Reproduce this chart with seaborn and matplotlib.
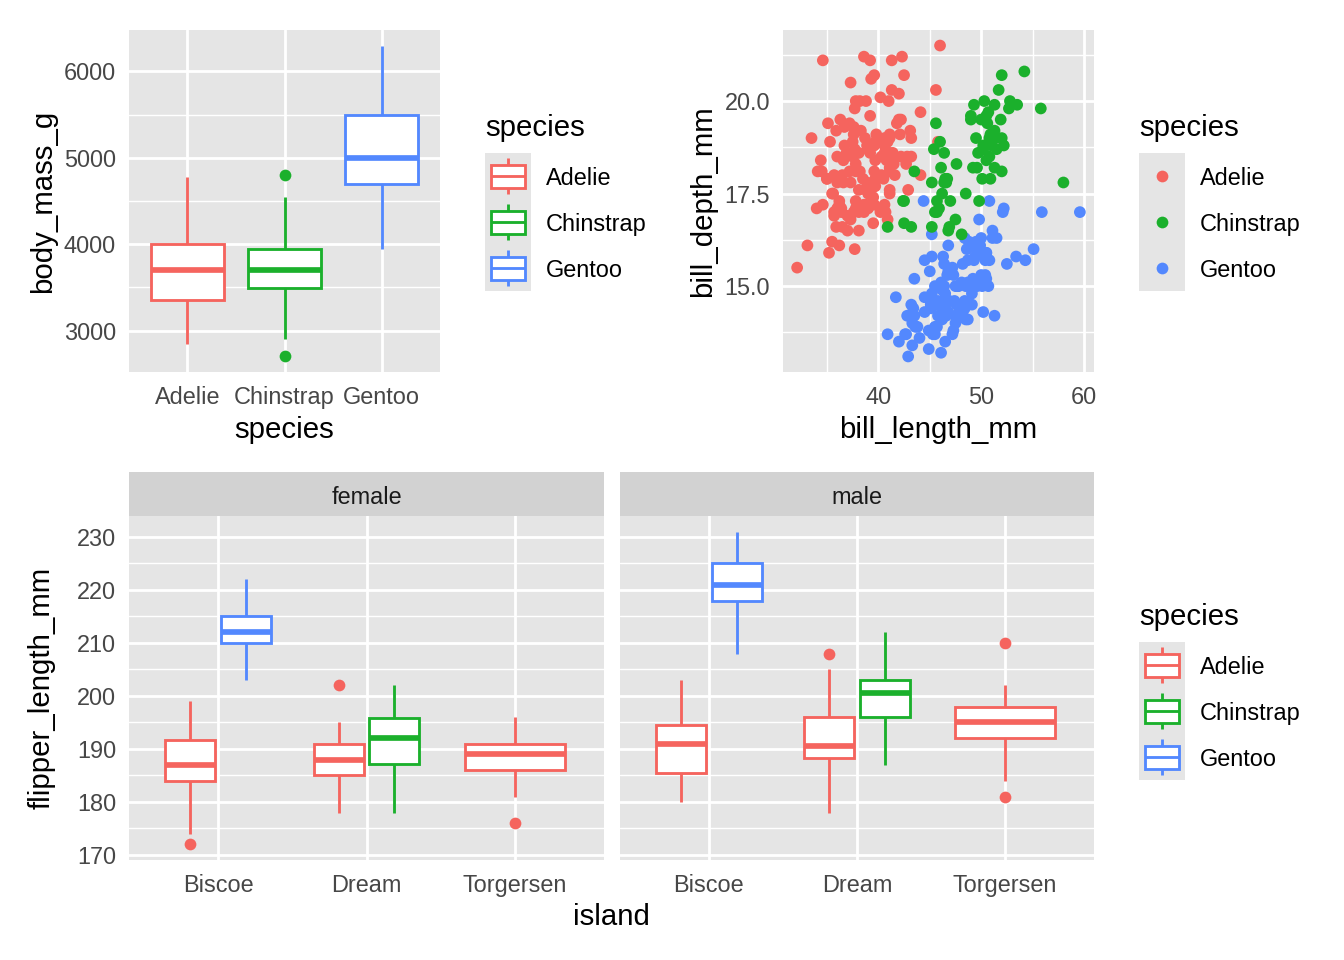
import numpy as np
import pandas as pd
import matplotlib
matplotlib.use('Agg')
import matplotlib.pyplot as plt
from matplotlib.patches import Rectangle
from matplotlib.ticker import FixedLocator
import seaborn as sns

# ---- data ----
species_order = ['Adelie', 'Chinstrap', 'Gentoo']
island_order = ['Biscoe', 'Dream', 'Torgersen']
sex_order = ['female', 'male']
colors = {'Adelie': '#F5645E', 'Chinstrap': '#1BB02C', 'Gentoo': '#5388FE'}

# body mass boxplot (per species): whisker ends, quartiles, outliers
mass_lo = [2850, 2900, 3950]
mass_q1 = [3350, 3487.5, 4700]
mass_med = [3700, 3700, 5000]
mass_q3 = [4000, 3950, 5500]
mass_hi = [4775, 4550, 6300]
mass_out = [[], [2700, 4800], []]

# bill length / depth scatter
adelie_len = [39.1, 39.5, 40.3, 36.7, 39.3, 38.9, 39.2, 34.1, 42.0, 37.8, 37.8, 41.1, 38.6, 34.6, 36.6,
              38.7, 42.5, 34.4, 46.0, 37.8, 37.7, 35.9, 38.2, 38.8, 35.3, 40.6, 40.5, 37.9, 40.5, 39.5,
              37.2, 39.5, 40.9, 36.4, 39.2, 38.8, 42.2, 37.6, 39.8, 36.5, 40.8, 36.0, 44.1, 37.0, 39.6,
              41.1, 37.5, 36.0, 42.3, 39.6, 40.1, 35.0, 42.0, 34.5, 41.4, 39.0, 40.6, 36.5, 37.6, 35.7,
              41.3, 37.6, 41.1, 36.4, 41.6, 35.5, 41.1, 35.9, 41.8, 33.5, 39.7, 39.6, 45.8, 35.5, 42.8,
              40.9, 37.2, 36.2, 42.1, 34.6, 42.9, 36.7, 35.1, 37.3, 41.3, 36.3, 36.9, 38.3, 38.9, 35.7,
              41.1, 34.0, 39.6, 36.2, 40.8, 38.1, 40.3, 33.1, 43.2, 35.0, 41.0, 37.7, 37.8, 37.9, 39.7,
              38.6, 38.2, 38.1, 43.2, 38.1, 45.6, 39.7, 42.2, 39.6, 42.7, 38.6, 37.3, 35.7, 41.1, 36.2,
              37.7, 40.2, 41.4, 35.2, 40.6, 38.8, 41.5, 39.0, 44.1, 38.5, 43.1, 36.8, 37.5, 38.1, 41.1,
              35.6, 40.2, 37.0, 39.7, 40.2, 40.6, 32.1, 40.7, 37.3, 39.0, 39.2, 36.6, 36.0, 37.8, 36.0,
              41.5]
adelie_dep = [18.7, 17.4, 18.0, 19.3, 20.6, 17.8, 19.6, 18.1, 20.2, 17.1, 17.3, 17.6, 21.2, 21.1, 17.8,
              19.0, 20.7, 18.4, 21.5, 18.3, 18.7, 19.2, 18.1, 17.2, 18.9, 18.6, 17.9, 18.6, 18.9, 16.7,
              18.1, 17.8, 18.9, 17.0, 21.1, 20.0, 18.5, 19.3, 19.1, 18.0, 18.4, 18.5, 19.7, 16.9, 18.8,
              19.0, 18.9, 17.9, 21.2, 17.7, 18.9, 17.9, 19.5, 18.1, 18.6, 17.5, 18.8, 16.6, 19.1, 16.9,
              21.1, 17.0, 18.2, 17.1, 18.0, 16.2, 19.1, 16.6, 19.4, 19.0, 18.4, 17.2, 18.9, 17.5, 18.5,
              16.8, 19.4, 16.1, 19.1, 17.2, 17.6, 18.8, 19.4, 17.8, 20.3, 19.5, 18.6, 19.2, 18.8, 18.0,
              18.1, 17.1, 18.1, 17.3, 18.9, 18.6, 18.5, 16.1, 18.5, 17.9, 20.0, 16.0, 20.0, 18.6, 18.9,
              17.2, 20.0, 17.0, 19.0, 16.5, 20.3, 17.7, 19.5, 20.7, 18.3, 17.0, 20.5, 17.0, 18.6, 17.2,
              19.8, 17.0, 18.5, 15.9, 19.0, 17.6, 18.3, 17.1, 18.0, 17.9, 19.2, 18.5, 18.5, 17.6, 17.5,
              17.5, 20.1, 16.5, 17.9, 17.1, 17.2, 15.5, 17.0, 16.8, 18.7, 18.6, 18.4, 17.8, 18.1, 17.1,
              18.5]
gentoo_len = [46.1, 50.0, 48.7, 50.0, 47.6, 46.5, 45.4, 46.7, 43.3, 46.8, 40.9, 49.0, 45.5, 48.4, 45.8,
              49.3, 42.0, 49.2, 46.2, 48.7, 50.2, 45.1, 46.5, 46.3, 42.9, 46.1, 44.5, 47.8, 48.2, 50.0,
              47.3, 42.8, 45.1, 59.6, 49.1, 48.4, 42.6, 44.4, 44.0, 48.7, 42.7, 49.6, 45.3, 49.6, 50.5,
              43.6, 45.5, 50.5, 44.9, 45.2, 46.6, 48.5, 45.1, 50.1, 46.5, 45.0, 43.8, 45.5, 43.2, 50.4,
              45.3, 46.2, 45.7, 54.3, 45.8, 49.8, 46.2, 49.5, 43.5, 50.7, 47.7, 46.4, 48.2, 46.5, 46.4,
              48.6, 47.5, 51.1, 45.2, 45.2, 49.1, 52.5, 47.4, 50.0, 44.9, 50.8, 43.4, 51.3, 47.5, 52.1,
              47.5, 52.2, 45.5, 49.5, 44.5, 50.8, 49.4, 46.9, 48.4, 51.1, 48.5, 55.9, 47.2, 49.1, 47.3,
              46.8, 41.7, 53.4, 43.3, 48.1, 50.5, 49.8, 43.5, 51.5, 46.2, 55.1, 44.5, 48.8, 47.2, 46.8,
              50.4, 45.2, 49.9]
gentoo_dep = [13.2, 16.3, 14.1, 15.2, 14.5, 13.5, 14.6, 15.3, 13.4, 15.4, 13.7, 16.1, 13.7, 14.6, 14.6,
              15.7, 13.5, 15.2, 14.5, 15.1, 14.3, 14.5, 14.5, 15.8, 13.1, 15.1, 14.3, 15.0, 14.3, 15.3,
              15.3, 14.2, 14.5, 17.0, 14.8, 16.3, 13.7, 17.3, 13.6, 15.7, 13.7, 16.0, 13.7, 15.0, 15.9,
              13.9, 13.9, 15.9, 13.3, 15.8, 14.2, 14.1, 14.4, 15.0, 14.4, 15.4, 13.9, 15.0, 14.5, 15.3,
              13.8, 14.9, 13.9, 15.7, 14.2, 16.8, 14.4, 16.2, 14.2, 15.0, 15.0, 15.6, 15.6, 14.8, 15.0,
              16.0, 14.2, 16.3, 13.8, 16.4, 14.5, 15.6, 14.6, 15.9, 13.8, 17.3, 14.4, 14.2, 14.0, 17.0,
              15.0, 17.1, 14.5, 16.1, 14.7, 15.7, 15.8, 14.6, 14.4, 16.5, 15.0, 17.0, 15.5, 15.0, 13.8,
              16.1, 14.7, 15.8, 14.0, 15.1, 15.2, 15.9, 15.2, 16.3, 14.1, 16.0, 15.7, 16.2, 13.7, 14.3,
              15.7, 14.8, 16.1]
chinstrap_len = [46.5, 50.0, 51.3, 45.4, 52.7, 45.2, 46.1, 51.3, 46.0, 51.3, 46.6, 51.7, 47.0, 52.0,
                 45.9, 50.5, 50.3, 58.0, 46.4, 49.2, 42.4, 48.5, 43.2, 50.6, 46.7, 52.0, 50.5, 49.5,
                 46.4, 52.8, 40.9, 54.2, 42.5, 51.0, 49.7, 47.5, 47.6, 52.0, 46.9, 53.5, 49.0, 46.2,
                 50.9, 45.5, 50.9, 50.8, 50.1, 49.0, 51.5, 49.8, 48.1, 51.4, 45.7, 50.7, 42.5, 52.2,
                 45.2, 49.3, 50.2, 45.6, 51.9, 46.8, 45.7, 55.8, 43.5, 49.6, 50.8, 50.2]
chinstrap_dep = [17.9, 19.5, 19.2, 18.7, 19.8, 17.8, 18.2, 18.2, 18.9, 19.9, 17.8, 20.3, 17.3, 18.1,
                 17.1, 19.6, 20.0, 17.8, 18.6, 18.2, 17.3, 17.5, 16.6, 19.4, 17.9, 19.0, 18.4, 19.0,
                 17.8, 20.0, 16.6, 20.8, 16.7, 18.8, 18.6, 16.8, 18.3, 20.7, 16.6, 19.9, 19.5, 17.5,
                 19.1, 17.0, 17.9, 18.5, 17.9, 19.6, 18.7, 17.3, 16.4, 19.0, 17.3, 19.7, 17.3, 18.8,
                 16.6, 19.9, 18.8, 19.4, 19.5, 16.5, 17.0, 19.8, 18.1, 18.2, 19.0, 18.7]

# flipper length boxplot (per sex / island / species)
flip_sex = ['female'] * 5 + ['male'] * 5
flip_island = ['Biscoe', 'Biscoe', 'Dream', 'Dream', 'Torgersen'] * 2
flip_species = ['Adelie', 'Gentoo', 'Adelie', 'Chinstrap', 'Adelie'] * 2
flip_lo = [174, 203, 178, 178, 181, 180, 208, 178, 187, 184]
flip_q1 = [184, 210, 185, 187.25, 186, 185.5, 218, 188.25, 196, 192]
flip_med = [187, 212, 188, 192, 189, 191, 221, 190.5, 200.5, 195]
flip_q3 = [191.75, 215, 191, 195.75, 191, 194.5, 225, 196, 203, 198]
flip_hi = [199, 222, 195, 202, 196, 203, 231, 205, 212, 202]
flip_out = [[172], [], [202], [], [176], [], [], [208], [], [181, 210]]


def box_values(lo, q1, med, q3, hi, outliers):
    # 9 values whose quartiles / whiskers / fliers give the box drawn
    low = [o for o in outliers if o < q1]
    high = [o for o in outliers if o > q3]
    return [low[0] if low else lo, lo, q1, q1, med, med, q3, hi, high[0] if high else hi]


pen = pd.concat([
    pd.DataFrame({'species': 'Adelie', 'bill_length_mm': adelie_len, 'bill_depth_mm': adelie_dep}),
    pd.DataFrame({'species': 'Gentoo', 'bill_length_mm': gentoo_len, 'bill_depth_mm': gentoo_dep}),
    pd.DataFrame({'species': 'Chinstrap', 'bill_length_mm': chinstrap_len, 'bill_depth_mm': chinstrap_dep}),
], ignore_index=True)

# ---- style ----
sns.set_theme(style='darkgrid')
plt.rcParams['font.family'] = ['Liberation Sans', 'DejaVu Sans']

W, H = 1344, 960
LW = 0.5 * 72.27 / 25.4 * 72 / 96   # ggplot 0.5 mm line in pt
PT = 4.4                            # point diameter in pt
PANEL = '#E5E5E5'
STRIP = '#D2D2D2'

fig = plt.figure(figsize=(7, 5), dpi=192, facecolor='white')


def add_px_axes(x0, y0, x1, y1):
    return fig.add_axes([x0 / W, 1 - y1 / H, (x1 - x0) / W, (y1 - y0) / H])


def style_axes(ax):
    ax.set_facecolor(PANEL)
    for s in ax.spines.values():
        s.set_visible(False)
    ax.grid(True, which='major', color='white', linewidth=LW)
    ax.grid(True, which='minor', color='white', linewidth=LW / 2)
    ax.set_axisbelow(True)
    ax.tick_params(which='major', length=2.75, width=LW, color='#333333',
                   labelsize=8.8, labelcolor='#474747')
    ax.tick_params(which='minor', length=0)
    ax.tick_params(axis='x', pad=2.4)
    ax.tick_params(axis='y', pad=2.1)
    ax.set_xlabel('')
    ax.set_ylabel('')


def box_kws(c):
    return dict(color='white', linecolor=c, linewidth=LW, saturation=1, showcaps=False,
                medianprops={'linewidth': 2 * LW},
                flierprops={'marker': 'o', 'markerfacecolor': c, 'markeredgecolor': c,
                            'markersize': PT, 'markeredgewidth': 0})


# 1. body mass by species
ax1 = add_px_axes(129, 30, 440, 372)
for i, sp in enumerate(species_order):
    vals = box_values(mass_lo[i], mass_q1[i], mass_med[i], mass_q3[i], mass_hi[i], mass_out[i])
    sns.boxplot(x=[sp] * len(vals), y=vals, order=species_order, width=0.75, ax=ax1, **box_kws(colors[sp]))
style_axes(ax1)
ax1.set_xlim(-0.6, 2.6)
ax1.set_ylim(2520, 6480)
ax1.yaxis.set_major_locator(FixedLocator([3000, 4000, 5000, 6000]))
ax1.yaxis.set_minor_locator(FixedLocator([3500, 4500, 5500]))
ax1.xaxis.grid(True, which='major', color='white', linewidth=LW)

# 2. bill scatter
ax2 = add_px_axes(783, 30, 1094, 372)
sns.scatterplot(data=pen, x='bill_length_mm', y='bill_depth_mm', hue='species', hue_order=species_order,
                palette=colors, s=PT ** 2, linewidth=0, legend=False, ax=ax2)
style_axes(ax2)
ax2.set_xlim(30.725, 60.975)
ax2.set_ylim(12.68, 21.92)
ax2.xaxis.set_major_locator(FixedLocator([40, 50, 60]))
ax2.xaxis.set_minor_locator(FixedLocator([35, 45, 55]))
ax2.yaxis.set_major_locator(FixedLocator([15, 17.5, 20]))
ax2.yaxis.set_minor_locator(FixedLocator([13.75, 16.25, 18.75, 21.25]))
ax2.set_yticklabels(['15.0', '17.5', '20.0'])

# 3. flipper length by island, faceted by sex
panel_x = {'female': (129, 604), 'male': (620, 1094)}
for sex in sex_order:
    x0, x1 = panel_x[sex]
    ax = add_px_axes(x0, 516, x1, 860)
    idx = [k for k in range(len(flip_sex)) if flip_sex[k] == sex]
    for k in idx:
        isl = flip_island[k]
        same = [j for j in idx if flip_island[j] == isl]
        n, slot = len(same), same.index(k)
        step = 0.75 / n
        pos = island_order.index(isl) + 1 - 0.375 + step * (slot + 0.5)
        vals = box_values(flip_lo[k], flip_q1[k], flip_med[k], flip_q3[k], flip_hi[k], flip_out[k])
        sns.boxplot(x=[pos] * len(vals), y=vals, native_scale=True, orient='x', width=step * 0.9,
                    ax=ax, **box_kws(colors[flip_species[k]]))
    style_axes(ax)
    ax.set_xlim(0.4, 3.6)
    ax.set_ylim(169.05, 233.95)
    ax.xaxis.set_major_locator(FixedLocator([1, 2, 3]))
    ax.set_xticklabels(island_order)
    ax.yaxis.set_major_locator(FixedLocator([170, 180, 190, 200, 210, 220, 230]))
    ax.yaxis.set_minor_locator(FixedLocator([175, 185, 195, 205, 215, 225]))
    if sex == 'male':
        ax.tick_params(axis='y', left=False, labelleft=False)
    strip = add_px_axes(x0, 472, x1, 516)
    strip.set_facecolor(STRIP)
    strip.set_xticks([])
    strip.set_yticks([])
    strip.grid(False)
    for s in strip.spines.values():
        s.set_visible(False)
    strip.text(0.5, 0.41, sex, ha='center', va='center', fontsize=8.8, color='#1A1A1A',
               transform=strip.transAxes)

# ---- overlay: axis titles and legends ----
ov = fig.add_axes([0, 0, 1, 1])
ov.set_xlim(0, W)
ov.set_ylim(H, 0)
ov.axis('off')
ov.patch.set_alpha(0)

title_kw = dict(fontsize=11, color='black')
ov.text(284.5, 438, 'species', ha='center', va='baseline', **title_kw)
ov.text(938.5, 438, 'bill_length_mm', ha='center', va='baseline', **title_kw)
ov.text(611.5, 925, 'island', ha='center', va='baseline', **title_kw)
ov.text(51, 201, 'body_mass_g', rotation=90, rotation_mode='anchor', ha='center', va='baseline', **title_kw)
ov.text(711, 201, 'bill_depth_mm', rotation=90, rotation_mode='anchor', ha='center', va='baseline', **title_kw)
ov.text(50, 688, 'flipper_length_mm', rotation=90, rotation_mode='anchor', ha='center', va='baseline', **title_kw)

KEY = 46


def legend(x0, title_y, kind):
    ov.text(x0, title_y, 'species', ha='left', va='baseline', **title_kw)
    top = title_y + 17
    ov.add_patch(Rectangle((x0, top), KEY, KEY * 3, facecolor=PANEL, edgecolor='none'))
    for i, sp in enumerate(species_order):
        c = colors[sp]
        ky = top + KEY * i
        cx = x0 + KEY / 2
        if kind == 'box':
            bx0, bx1 = x0 + KEY * 0.125, x0 + KEY * 0.875
            ov.add_patch(Rectangle((bx0, ky + KEY * 0.25), bx1 - bx0, KEY * 0.5,
                                   facecolor='white', edgecolor=c, linewidth=LW))
            ov.plot([cx, cx], [ky + KEY * 0.1, ky + KEY * 0.25], color=c, lw=LW, solid_capstyle='butt')
            ov.plot([cx, cx], [ky + KEY * 0.75, ky + KEY * 0.9], color=c, lw=LW, solid_capstyle='butt')
            ov.plot([bx0, bx1], [ky + KEY / 2] * 2, color=c, lw=LW, solid_capstyle='butt')
        else:
            ov.plot([cx], [ky + KEY / 2], 'o', ms=PT, color=c, mew=0)
        ov.text(x0 + 61, ky + KEY / 2 + 9, sp, ha='left', va='baseline', fontsize=8.8, color='black')


legend(485, 136, 'box')
legend(1139, 136, 'point')
legend(1139, 625, 'box')

fig.savefig('out.png', dpi=192, facecolor='white')
